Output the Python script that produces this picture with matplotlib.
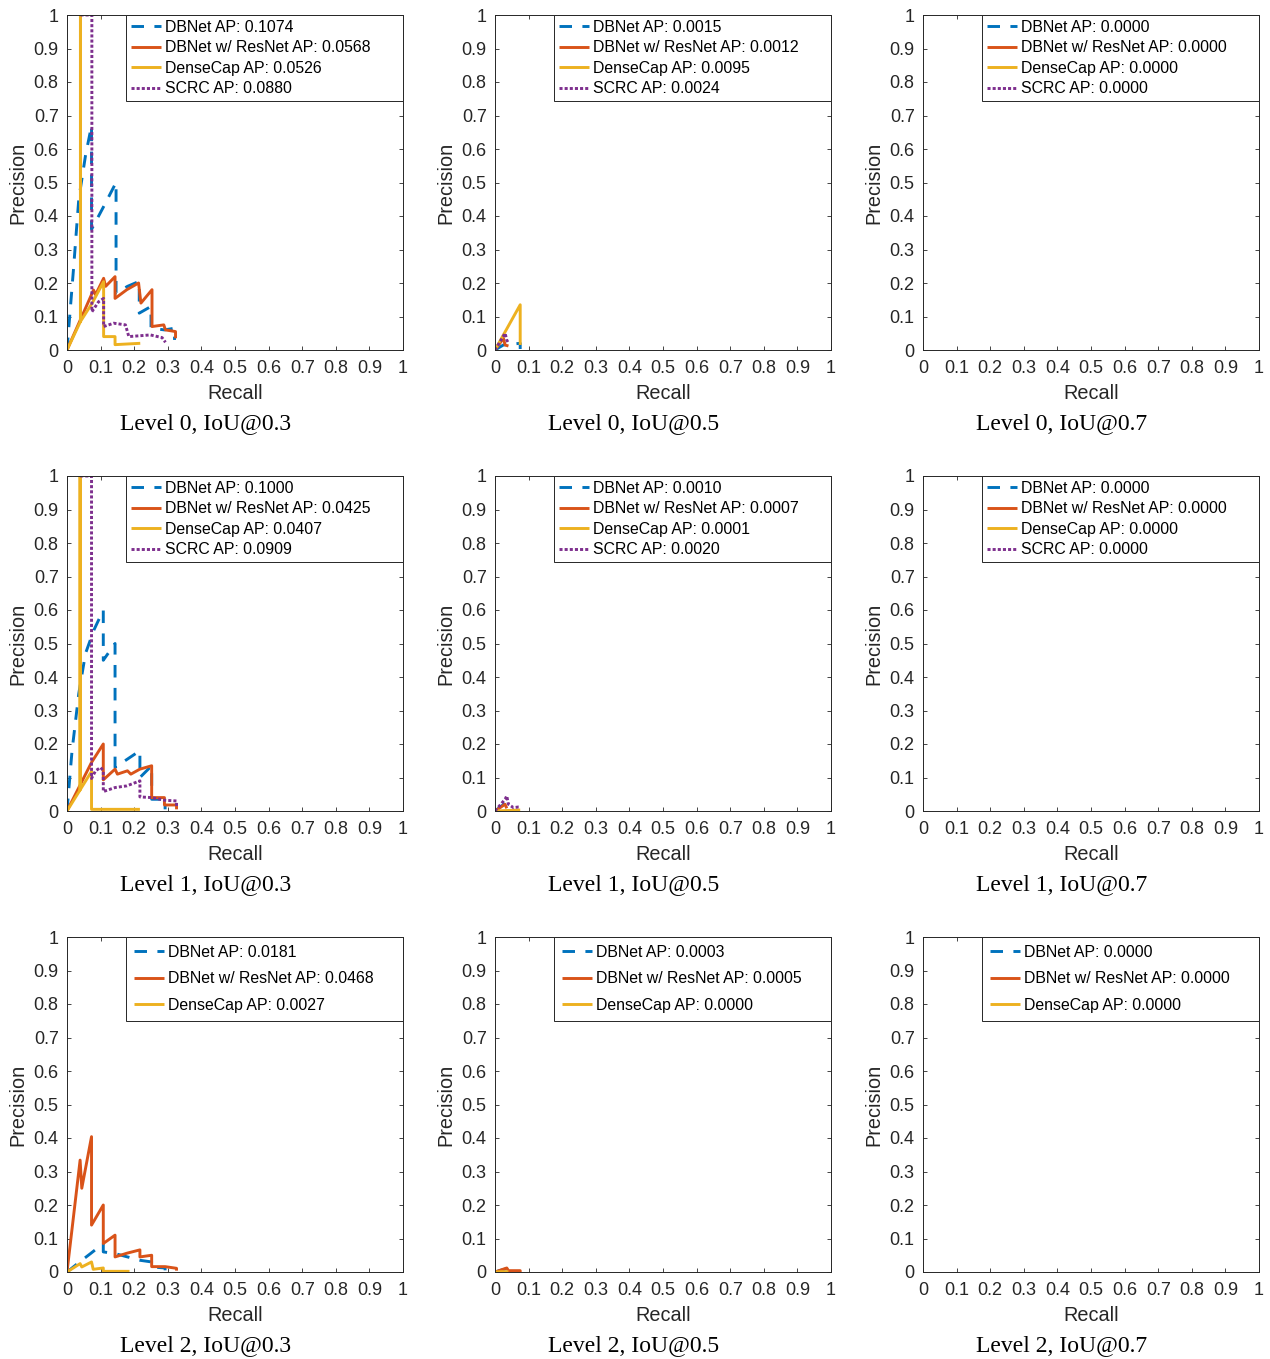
import matplotlib
matplotlib.use("Agg")
import matplotlib.pyplot as plt

plt.rcParams['font.family'] = ['Liberation Sans', 'DejaVu Sans']
plt.rcParams['lines.scale_dashes'] = False

# ---- data (recall / precision) ----
# Level 0, IoU@0.3
l0_03_dbnet_r = [0, 0.02, 0.035, 0.055, 0.073, 0.073, 0.11, 0.146, 0.146, 0.18, 0.215, 0.215, 0.25, 0.25, 0.29, 0.32, 0.32]
l0_03_dbnet_p = [0, 0.25, 0.45, 0.58, 0.67, 0.36, 0.43, 0.50, 0.17, 0.19, 0.205, 0.11, 0.13, 0.065, 0.06, 0.065, 0.03]
l0_03_resnet_r = [0, 0.079, 0.085, 0.109, 0.115, 0.143, 0.143, 0.178, 0.213, 0.22, 0.253, 0.253, 0.288, 0.293, 0.323, 0.323]
l0_03_resnet_p = [0, 0.179, 0.165, 0.214, 0.19, 0.219, 0.154, 0.18, 0.2, 0.14, 0.18, 0.07, 0.075, 0.06, 0.055, 0.035]
l0_03_dense_r = [0, 0.04, 0.04, 0.04, 0.075, 0.109, 0.109, 0.143, 0.143, 0.218]
l0_03_dense_p = [0, 0.085, 1.0, 0.085, 0.14, 0.204, 0.04, 0.04, 0.016, 0.02]
l0_03_scrc_r = [0.04, 0.074, 0.074, 0.094, 0.109, 0.109, 0.139, 0.174, 0.184, 0.248, 0.283, 0.293]
l0_03_scrc_p = [1.0, 1.0, 0.114, 0.144, 0.154, 0.07, 0.08, 0.075, 0.04, 0.045, 0.037, 0.023]

# Level 0, IoU@0.5
l0_05_dbnet_r = [0, 0.025, 0.075, 0.075]
l0_05_dbnet_p = [0, 0.015, 0.02, 0.003]
l0_05_resnet_r = [0, 0.025, 0.03, 0.04]
l0_05_resnet_p = [0, 0.035, 0.015, 0.012]
l0_05_dense_r = [0, 0.075, 0.075]
l0_05_dense_p = [0, 0.135, 0.015]
l0_05_scrc_r = [0, 0.03, 0.035, 0.04]
l0_05_scrc_p = [0, 0.05, 0.03, 0.02]

# Level 1, IoU@0.3
l1_03_dbnet_r = [0, 0.015, 0.035, 0.055, 0.08, 0.108, 0.108, 0.143, 0.143, 0.217, 0.217, 0.252, 0.252, 0.292, 0.292]
l1_03_dbnet_p = [0, 0.18, 0.35, 0.47, 0.54, 0.6, 0.45, 0.5, 0.13, 0.18, 0.1, 0.135, 0.035, 0.035, 0.005]
l1_03_resnet_r = [0, 0.073, 0.108, 0.108, 0.143, 0.15, 0.18, 0.19, 0.217, 0.252, 0.252, 0.29, 0.29, 0.326, 0.326]
l1_03_resnet_p = [0, 0.145, 0.2, 0.093, 0.125, 0.11, 0.12, 0.11, 0.125, 0.135, 0.04, 0.04, 0.018, 0.018, 0.005]
l1_03_dense_r = [0, 0.039, 0.039, 0.039, 0.073, 0.073, 0.217]
l1_03_dense_p = [0, 0.063, 1.0, 0.063, 0.118, 0.005, 0.005]
l1_03_scrc_r = [0.039, 0.073, 0.073, 0.085, 0.1, 0.108, 0.108, 0.143, 0.178, 0.217, 0.217, 0.252, 0.292, 0.326, 0.326]
l1_03_scrc_p = [1.0, 1.0, 0.097, 0.12, 0.13, 0.12, 0.058, 0.07, 0.075, 0.09, 0.042, 0.04, 0.032, 0.03, 0.01]

# Level 1, IoU@0.5
l1_05_dbnet_r = [0, 0.03, 0.035]
l1_05_dbnet_p = [0, 0.023, 0.01]
l1_05_resnet_r = [0, 0.03, 0.035]
l1_05_resnet_p = [0, 0.02, 0.008]
l1_05_dense_r = [0, 0.075]
l1_05_dense_p = [0, 0.003]
l1_05_scrc_r = [0, 0.03, 0.035, 0.04, 0.055, 0.07, 0.075]
l1_05_scrc_p = [0, 0.035, 0.045, 0.02, 0.01, 0.012, 0.012]

# Level 2, IoU@0.3
l2_03_dbnet_r = [0, 0.035, 0.07, 0.108, 0.108, 0.143, 0.18, 0.217, 0.252, 0.252, 0.292, 0.292]
l2_03_dbnet_p = [0, 0.028, 0.055, 0.085, 0.06, 0.055, 0.045, 0.035, 0.03, 0.015, 0.012, 0.005]
l2_03_resnet_r = [0, 0.039, 0.044, 0.073, 0.073, 0.108, 0.108, 0.143, 0.143, 0.178, 0.217, 0.217, 0.252, 0.252, 0.292, 0.326, 0.326]
l2_03_resnet_p = [0, 0.334, 0.25, 0.404, 0.14, 0.2, 0.085, 0.11, 0.045, 0.056, 0.066, 0.045, 0.05, 0.016, 0.016, 0.011, 0.004]
l2_03_dense_r = [0, 0.039, 0.044, 0.073, 0.078, 0.108, 0.108, 0.186]
l2_03_dense_p = [0, 0.025, 0.015, 0.03, 0.008, 0.012, 0.002, 0.002]

# Level 2, IoU@0.5
l2_05_dbnet_r = [0, 0.02, 0.035, 0.035]
l2_05_dbnet_p = [0, 0.006, 0.01, 0.003]
l2_05_resnet_r = [0, 0.035, 0.04, 0.075, 0.075]
l2_05_resnet_p = [0, 0.012, 0.004, 0.004, 0]
l2_05_dense_r = [0, 0.02, 0.04]
l2_05_dense_p = [0, 0.001, 0.001]

# AP values per level (rows) and IoU (cols)
ap_dbnet = [[0.1074, 0.0015, 0.0000], [0.1000, 0.0010, 0.0000], [0.0181, 0.0003, 0.0000]]
ap_resnet = [[0.0568, 0.0012, 0.0000], [0.0425, 0.0007, 0.0000], [0.0468, 0.0005, 0.0000]]
ap_dense = [[0.0526, 0.0095, 0.0000], [0.0407, 0.0001, 0.0000], [0.0027, 0.0000, 0.0000]]
ap_scrc = [[0.0880, 0.0024, 0.0000], [0.0909, 0.0020, 0.0000]]

ious = ['0.3', '0.5', '0.7']
ticks = [0, 0.1, 0.2, 0.3, 0.4, 0.5, 0.6, 0.7, 0.8, 0.9, 1]
tick_labels = ['0', '0.1', '0.2', '0.3', '0.4', '0.5', '0.6', '0.7', '0.8', '0.9', '1']

curves = {
    (0, 0): [(l0_03_dbnet_r, l0_03_dbnet_p), (l0_03_resnet_r, l0_03_resnet_p), (l0_03_dense_r, l0_03_dense_p), (l0_03_scrc_r, l0_03_scrc_p)],
    (0, 1): [(l0_05_dbnet_r, l0_05_dbnet_p), (l0_05_resnet_r, l0_05_resnet_p), (l0_05_dense_r, l0_05_dense_p), (l0_05_scrc_r, l0_05_scrc_p)],
    (1, 0): [(l1_03_dbnet_r, l1_03_dbnet_p), (l1_03_resnet_r, l1_03_resnet_p), (l1_03_dense_r, l1_03_dense_p), (l1_03_scrc_r, l1_03_scrc_p)],
    (1, 1): [(l1_05_dbnet_r, l1_05_dbnet_p), (l1_05_resnet_r, l1_05_resnet_p), (l1_05_dense_r, l1_05_dense_p), (l1_05_scrc_r, l1_05_scrc_p)],
    (2, 0): [(l2_03_dbnet_r, l2_03_dbnet_p), (l2_03_resnet_r, l2_03_resnet_p), (l2_03_dense_r, l2_03_dense_p)],
    (2, 1): [(l2_05_dbnet_r, l2_05_dbnet_p), (l2_05_resnet_r, l2_05_resnet_p), (l2_05_dense_r, l2_05_dense_p)],
}

colors = ['#0072BD', '#D95319', '#EDB120', '#7E2F8E']
dashes = [(9, 7.5), None, None, (2.2, 1.5)]
names = ['DBNet', 'DBNet w/ ResNet', 'DenseCap', 'SCRC']
dark = '#262626'

W, H = 1270, 1359
fig = plt.figure(figsize=(W / 100, H / 100), dpi=100)

col_x = [67, 495, 923]
row_top = [15, 476, 937]
aw, ah = 336, 335

for row in range(3):
    for col in range(3):
        x0 = col_x[col]
        y0 = row_top[row]
        ax = fig.add_axes([x0 / W, 1 - (y0 + ah) / H, aw / W, ah / H])
        n = 4 if row < 2 else 3
        aps = [ap_dbnet, ap_resnet, ap_dense, ap_scrc]
        data = curves.get((row, col), [([], [])] * n)
        for i in range(n):
            r, p = data[i]
            label = '%s AP: %.4f' % (names[i], aps[i][row][col])
            ln, = ax.plot(r, p, color=colors[i], lw=2.1, label=label,
                          solid_capstyle='butt', dash_capstyle='butt')
            if dashes[i] is not None:
                ln.set_dashes(dashes[i])
        ax.set_xlim(0, 1)
        ax.set_ylim(0, 1)
        ax.set_xticks(ticks)
        ax.set_yticks(ticks)
        ax.set_xticklabels(tick_labels)
        ax.set_yticklabels(tick_labels)
        ax.tick_params(direction='in', top=True, right=True, length=2.6, width=0.6,
                       labelsize=13, colors=dark, labelcolor=dark)
        ax.tick_params(axis='x', pad=7.5)
        ax.tick_params(axis='y', pad=6)
        for s in ax.spines.values():
            s.set_color(dark)
            s.set_linewidth(0.7)
        ax.set_xlabel('Recall', fontsize=14.3, color=dark, labelpad=4.5)
        ax.set_ylabel('Precision', fontsize=14.3, color=dark, labelpad=4.5)

        lsp = 0.35 if n == 4 else 0.72
        bpad = 0.29 if n == 4 else 0.5
        leg = ax.legend(loc='upper left', bbox_to_anchor=(0.176, 0, 0.824, 1.0), mode='expand',
                        borderaxespad=0, fontsize=11.4, fancybox=False, framealpha=1,
                        handlelength=1.9, handletextpad=0.25, labelspacing=lsp,
                        borderpad=bpad)
        leg.get_frame().set_edgecolor(dark)
        leg.get_frame().set_linewidth(0.7)

        fig.text((x0 + aw / 2 - 29) / W, 1 - (y0 + 409) / H, 'Level %d, IoU@%s' % (row, ious[col]),
                 ha='center', va='center', fontsize=17, family=['Liberation Serif', 'DejaVu Serif'])

fig.savefig('out.png', dpi=100)
